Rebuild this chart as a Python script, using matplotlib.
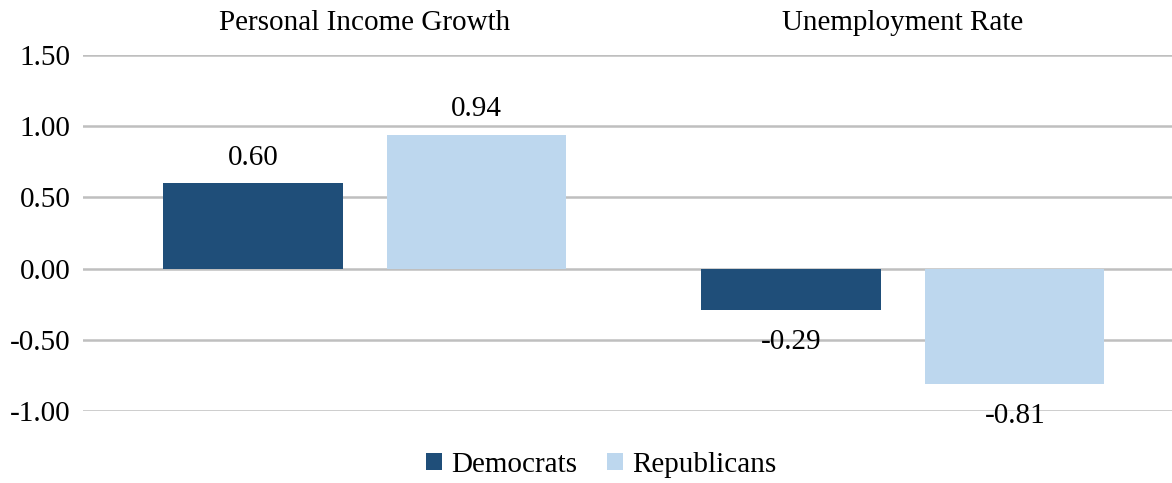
import matplotlib.pyplot as plt
import numpy as np

categories = ["Personal Income Growth", "Unemployment Rate"]
series = ["Democrats", "Republicans"]
democrats = [0.60, -0.29]
republicans = [0.94, -0.81]
colors = ["#1F4E79", "#BDD7EE"]
yticks = [-1.0, -0.5, 0.0, 0.5, 1.0, 1.5]

plt.rcParams["font.family"] = ["Liberation Serif", "DejaVu Serif"]

W, H = 1172, 483
fig = plt.figure(figsize=(W / 100, H / 100), dpi=100)
ax = fig.add_axes([83 / W, 1 - 411 / H, (1172 - 83) / W, (411 - 55) / H])

x = np.arange(len(categories))
width = 0.333
offset = 0.208
for vals, name, col, sh in [(democrats, series[0], colors[0], -offset),
                            (republicans, series[1], colors[1], offset)]:
    bars = ax.bar(x + sh, vals, width, color=col, label=name, zorder=3)
    for b, v in zip(bars, vals):
        dy = 9 if v >= 0 else -14
        ax.annotate(f"{v:.2f}", (b.get_x() + b.get_width() / 2, v),
                    xytext=(0, dy), textcoords="offset points",
                    ha="center", va="bottom" if v >= 0 else "top",
                    fontsize=21, color="#000000")

ax.set_xlim(-0.524, 1.5)
ax.set_ylim(-1.0, 1.5)
ax.set_yticks(yticks)
ax.set_yticklabels([f"{t:.2f}" for t in yticks], fontsize=21)
ax.yaxis.grid(True, color="#BFBFBF", linewidth=1.8, zorder=0)
ax.set_axisbelow(True)
ax.tick_params(axis="y", length=0, pad=9)

ax.xaxis.tick_top()
ax.set_xticks(x)
ax.set_xticklabels(categories, fontsize=21)
ax.tick_params(axis="x", length=0, pad=14)

for s in ax.spines.values():
    s.set_visible(False)

fig.legend(loc="center", bbox_to_anchor=(0.513, 1 - 465 / H), ncol=2,
           frameon=False, fontsize=21, handlelength=0.55, handleheight=0.55,
           handletextpad=0.3, columnspacing=1.05)

fig.savefig("out.png", dpi=100)
